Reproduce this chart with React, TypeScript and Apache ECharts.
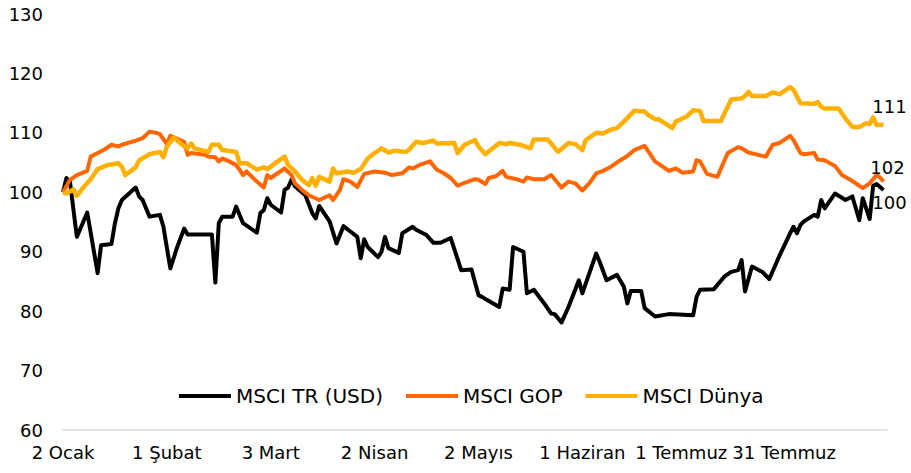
import React, { useEffect, useRef } from "react";
import * as echarts from "echarts";

// x = days since 2 Ocak
const xTickLabels: Record<number, string> = {
  0: "2 Ocak",
  30: "1 Şubat",
  60: "3 Mart",
  90: "2 Nisan",
  120: "2 Mayıs",
  150: "1 Haziran",
  180: "1 Temmuz",
  210: "31 Temmuz",
};

const seriesNames = ["MSCI TR (USD)", "MSCI GOP", "MSCI Dünya"];
const seriesColors = ["#000000", "#FF6600", "#FFB000"];
const seriesWidths = [4, 4, 4.5];

const trPoints: [number, number][] = [
  [0, 100], [1, 102.4], [2, 101.8], [4, 92.5], [7, 96.6], [10, 86.4], [11, 91.1], [14, 91.3], [15, 94.8], [16, 97.3],
  [17, 98.7], [21, 100.8], [22, 99.3], [23, 98.7], [25, 95.9], [28, 96.2], [29, 94.2], [31, 87.2], [33, 90.8], [35, 93.9],
  [36, 92.9], [43, 92.9], [44, 84.8], [45, 94.8], [46, 95.9], [49, 95.9], [50, 97.6], [52, 94.8], [56, 93.2], [57, 96.5],
  [58, 97.0], [59, 99.0], [60, 97.9], [63, 96.6], [64, 100.4], [65, 100.8], [66, 102.1], [67, 101.0], [70, 99.5], [72, 96.5],
  [73, 95.6], [74, 97.7], [77, 95.1], [79, 91.4], [81, 94.3], [83, 93.4], [85, 92.5], [86, 88.9], [87, 92.1], [88, 90.8],
  [91, 89.1], [92, 90.0], [93, 92.5], [94, 90.6], [97, 89.8], [98, 93.1], [101, 94.2], [102, 93.7], [105, 92.8], [107, 91.5],
  [109, 91.5], [112, 92.3], [115, 86.9], [118, 87.0], [120, 82.7], [121, 82.4], [123, 81.7], [126, 80.7], [127, 83.8], [129, 83.6],
  [130, 90.8], [133, 90.0], [134, 83.0], [136, 83.6], [139, 81.3], [141, 79.6], [142, 79.5], [144, 78.1], [146, 80.7], [149, 85.2],
  [150, 83.0], [154, 89.7], [155, 88.3], [157, 85.2], [160, 86.1], [162, 84.1], [163, 81.3], [164, 83.4], [167, 83.4], [168, 80.5],
  [171, 79.1], [175, 79.5], [182, 79.3], [183, 82.4], [184, 83.6], [188, 83.7], [191, 85.8], [193, 86.6], [195, 86.9], [196, 88.6],
  [197, 83.3], [199, 87.5], [202, 86.6], [204, 85.4], [207, 89.4], [210, 93.1], [211, 94.2], [212, 93.1], [213, 94.5], [214, 95.1],
  [217, 96.2], [218, 95.9], [219, 98.7], [220, 97.3], [223, 99.8], [226, 98.7], [228, 99.3], [230, 95.3], [231, 99.0], [233, 95.5],
  [234, 101.1], [235, 101.4], [237, 100.4],
];

const gopPoints: [number, number][] = [
  [0, 100], [2, 102.1], [4, 102.9], [7, 103.6], [8, 106.0], [10, 106.6], [12, 107.2], [14, 108.0], [16, 107.7], [17, 108.0],
  [21, 108.7], [23, 109.1], [25, 110.2], [27, 110.0], [28, 109.8], [30, 108.1], [31, 109.5], [35, 108.5], [36, 106.3], [37, 106.6],
  [41, 106.3], [42, 106.0], [44, 105.9], [45, 105.2], [46, 105.7], [48, 105.2], [50, 104.6], [51, 103.8], [52, 102.9], [53, 103.5],
  [56, 101.8], [58, 100.8], [59, 102.9], [60, 102.4], [64, 104.0], [66, 102.9], [67, 101.5], [69, 100.4], [71, 99.5], [74, 98.7],
  [77, 99.5], [78, 98.7], [80, 100.4], [81, 102.2], [83, 101.8], [85, 100.9], [87, 103.1], [90, 103.5], [93, 103.3], [95, 102.9],
  [98, 103.2], [100, 104.2], [101, 104.0], [103, 104.6], [106, 105.2], [108, 103.8], [110, 103.2], [112, 102.4], [114, 101.1], [116, 101.6],
  [119, 102.2], [120, 102.1], [122, 101.4], [123, 102.4], [125, 102.7], [127, 103.6], [128, 102.6], [131, 102.2], [133, 101.8], [134, 102.5],
  [136, 102.2], [139, 102.2], [141, 102.9], [144, 100.8], [146, 101.8], [148, 101.5], [150, 100.3], [152, 101.5], [154, 103.2], [156, 103.6],
  [158, 104.2], [159, 104.6], [161, 105.4], [163, 106.1], [165, 107.1], [168, 107.8], [171, 105.2], [173, 104.4], [175, 103.6], [177, 104.0],
  [179, 103.3], [182, 103.5], [183, 105.4], [184, 105.2], [186, 103.1], [189, 102.6], [192, 106.6], [195, 107.6], [196, 107.4], [198, 106.7],
  [203, 106.0], [205, 108.0], [207, 108.3], [210, 109.5], [211, 108.8], [213, 106.6], [214, 106.4], [217, 106.6], [218, 105.5], [220, 105.4],
  [223, 104.4], [225, 102.9], [228, 101.9], [231, 100.7], [233, 101.5], [235, 102.9], [236, 102.5], [237, 101.8],
];

const worldPoints: [number, number][] = [
  [0, 100], [1, 99.8], [3, 100.5], [4, 99.4], [6, 100.9], [8, 102.2], [10, 103.9], [13, 104.6], [16, 104.9], [17, 104.3],
  [18, 102.9], [21, 104.2], [22, 105.4], [23, 105.7], [25, 106.4], [28, 106.8], [29, 105.9], [30, 107.7], [32, 109.2], [34, 108.2],
  [36, 107.4], [37, 108.2], [38, 107.4], [42, 106.8], [43, 108.0], [45, 108.0], [46, 107.1], [50, 106.8], [51, 104.9], [53, 104.9],
  [56, 103.8], [58, 104.2], [59, 103.9], [62, 105.2], [64, 106.0], [65, 104.6], [67, 103.5], [69, 102.1], [71, 101.2], [72, 102.4],
  [73, 101.1], [74, 102.6], [77, 101.8], [78, 104.0], [79, 103.2], [82, 103.5], [84, 103.3], [86, 103.9], [88, 105.7], [90, 106.6],
  [92, 107.4], [94, 106.7], [96, 107.0], [99, 106.8], [100, 107.2], [102, 108.5], [104, 108.3], [107, 108.7], [108, 108.2], [113, 108.3],
  [114, 106.6], [116, 108.0], [119, 108.8], [120, 107.7], [122, 106.4], [126, 108.3], [128, 108.1], [129, 108.3], [132, 108.0], [133, 107.8],
  [135, 107.4], [136, 108.9], [140, 108.9], [143, 106.8], [146, 108.3], [148, 108.1], [150, 107.1], [151, 108.8], [154, 110.0], [156, 109.9],
  [158, 110.5], [160, 110.8], [162, 111.9], [165, 113.7], [168, 113.6], [169, 113.0], [171, 112.3], [172, 112.3], [176, 110.8], [177, 111.9],
  [180, 112.7], [182, 113.8], [184, 113.7], [185, 112.0], [190, 112.0], [193, 115.6], [196, 115.8], [197, 116.2], [198, 116.9], [199, 116.2],
  [203, 116.2], [205, 116.8], [207, 116.5], [210, 117.7], [211, 117.2], [213, 115.0], [217, 114.9], [218, 115.2], [219, 114.4], [220, 114.1],
  [224, 114.1], [226, 112.4], [228, 111.0], [230, 111.0], [232, 111.6], [233, 111.5], [234, 112.6], [235, 111.3], [237, 111.4],
];

const allPoints = [trPoints, gopPoints, worldPoints];
const endLabelOffsets: [number, number][] = [[6, 13], [4, -14], [6, -18]];

const FONT = "DejaVu Sans";

export default function App() {
  const ref = useRef<HTMLDivElement>(null);
  useEffect(() => {
    document.body.style.margin = "0";
    if (!ref.current) return;
    const chart = echarts.init(ref.current, undefined, { renderer: "svg" });
    chart.setOption({
      animation: false,
      backgroundColor: "#ffffff",
      textStyle: { fontFamily: FONT },
      grid: { left: 63, right: 24, top: 14, bottom: 43, containLabel: false },
      legend: {
        data: seriesNames,
        left: 174,
        top: 381,
        icon: "rect",
        itemWidth: 52,
        itemHeight: 4,
        itemGap: 23,
        textStyle: { fontSize: 20, color: "#000", fontFamily: FONT },
      },
      xAxis: {
        type: "value",
        min: 0,
        max: 238,
        interval: 30,
        axisLine: { show: true, lineStyle: { color: "#D9D9D9", width: 1.5 } },
        axisTick: { show: false },
        splitLine: { show: false },
        axisLabel: {
          margin: 13,
          fontSize: 18,
          color: "#000",
          fontFamily: FONT,
          hideOverlap: false,
          showMaxLabel: false,
          formatter: (v: number) => {
            const t = xTickLabels[v];
            if (!t) return "";
            if (v === 180) return `{a|${t}}`;
            if (v === 210) return `{b|${t}}`;
            return t;
          },
          rich: {
            a: { fontSize: 18, color: "#000", fontFamily: FONT, padding: [0, 10, 0, 0] },
            b: { fontSize: 18, color: "#000", fontFamily: FONT, padding: [0, 12, 0, 0] },
          },
        },
      },
      yAxis: {
        type: "value",
        min: 60,
        max: 130,
        interval: 10,
        axisLine: { show: false },
        axisTick: { show: false },
        splitLine: { show: false },
        axisLabel: { margin: 20, fontSize: 18, color: "#000", fontFamily: FONT },
      },
      series: allPoints.map((pts, i) => {
        const last = pts[pts.length - 1];
        return {
          name: seriesNames[i],
          type: "line",
          data: pts,
          symbol: "none",
          color: seriesColors[i],
          lineStyle: { color: seriesColors[i], width: seriesWidths[i], join: "round" },
          markPoint: {
            symbol: "circle",
            symbolSize: 0,
            silent: true,
            data: [{ coord: [last[0], last[1]], value: Math.round(last[1]) }],
            label: {
              show: true,
              position: "inside",
              offset: endLabelOffsets[i],
              fontSize: 18,
              color: "#000",
              fontFamily: FONT,
              formatter: "{c}",
            },
          },
        };
      }),
    });
    return () => chart.dispose();
  }, []);
  return <div ref={ref} style={{ width: 911, height: 473 }} />;
}
